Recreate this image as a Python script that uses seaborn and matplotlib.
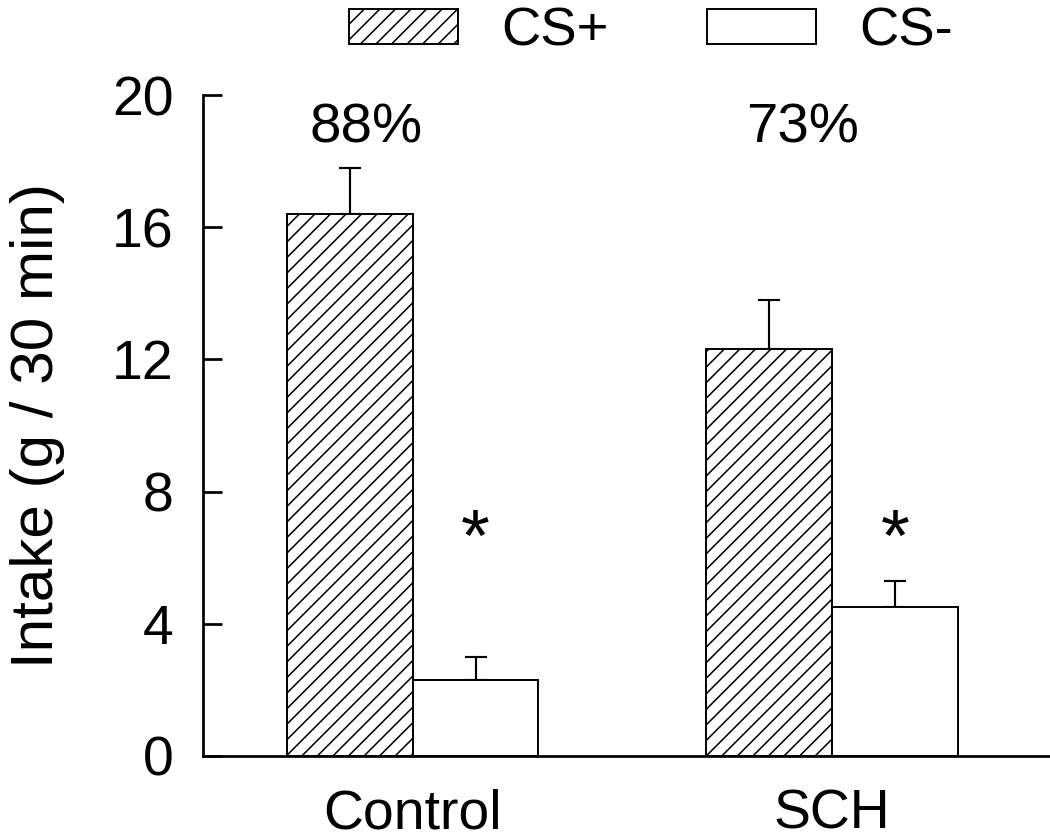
import pandas as pd
import matplotlib
matplotlib.use("Agg")
import matplotlib.pyplot as plt
from matplotlib.patches import Patch
import seaborn as sns

# values
groups = ["Control", "SCH"]
stim = ["CS+", "CS-"]
cs_plus = [16.4, 12.3]
cs_plus_err = [1.4, 1.5]
cs_minus = [2.3, 4.5]
cs_minus_err = [0.7, 0.8]
percents = ["88%", "73%"]
yticks = [0, 4, 8, 12, 16, 20]

sns.set_style("ticks")
plt.rcParams["font.family"] = ["Liberation Sans", "DejaVu Sans"]
plt.rcParams["hatch.linewidth"] = 0.8
plt.rcParams["hatch.color"] = "black"
plt.rcParams["text.color"] = "black"
plt.rcParams["axes.labelcolor"] = "black"

df = pd.DataFrame({
    "group": groups * 2,
    "stim": [stim[0]] * 2 + [stim[1]] * 2,
    "intake": cs_plus + cs_minus,
    "err": cs_plus_err + cs_minus_err,
})

fig = plt.figure(figsize=(7.5, 838 / 140), dpi=140)
ax = fig.add_axes([0.1933, 0.0979, 0.8067, 0.7887])

sns.barplot(data=df, x="group", y="intake", hue="stim", order=groups,
            hue_order=stim, width=0.6, palette=["white", "white"],
            edgecolor="black", linewidth=1.0, errorbar=None, legend=False,
            ax=ax, zorder=2)

# hatch the CS+ bars, add one-sided error bars and the asterisks
n = len(groups)
for i, p in enumerate(ax.patches[:2 * n]):
    if i < n:
        p.set_hatch("///")
    row = df.iloc[i]
    xc = p.get_x() + p.get_width() / 2
    ax.errorbar(xc, row["intake"], yerr=[[0], [row["err"]]], fmt="none",
                ecolor="black", elinewidth=1.1, capsize=5.5, capthick=1.1,
                zorder=1)
    if i >= n:
        ax.text(xc, 6.5, "*", ha="center", va="center", fontsize=38)

pct_dx = [-0.11, -0.07]
for j, txt in enumerate(percents):
    ax.text(j + pct_dx[j], 19.0, txt, ha="center", va="center", fontsize=29)

ax.set_ylim(0, 20)
ax.set_xlim(-0.5, 1.52)
ax.set_yticks(yticks)
ax.set_xlabel("")
ax.set_ylabel("Intake (g / 30 min)", fontsize=31)
ax.yaxis.set_label_coords(-0.163, 0.5)
sns.despine(ax=ax)
for s in ["left", "bottom"]:
    ax.spines[s].set_linewidth(1.4)
    ax.spines[s].set_color("black")
ax.tick_params(axis="y", direction="in", length=10, width=1.4, pad=15,
               labelsize=28.5, colors="black")
ax.tick_params(axis="x", length=0, pad=16.5, labelsize=28.5, colors="black")

handles = [Patch(facecolor="white", edgecolor="black", hatch="///", lw=1.0),
           Patch(facecolor="white", edgecolor="black", lw=1.0)]
fig.legend(handles=handles, labels=stim, ncol=2, frameon=False,
           loc="center", bbox_to_anchor=(0.62, 0.962), fontsize=28,
           handlelength=2.0, handleheight=0.6, handletextpad=0.8,
           columnspacing=1.8)

fig.savefig("out.png", dpi=140)
